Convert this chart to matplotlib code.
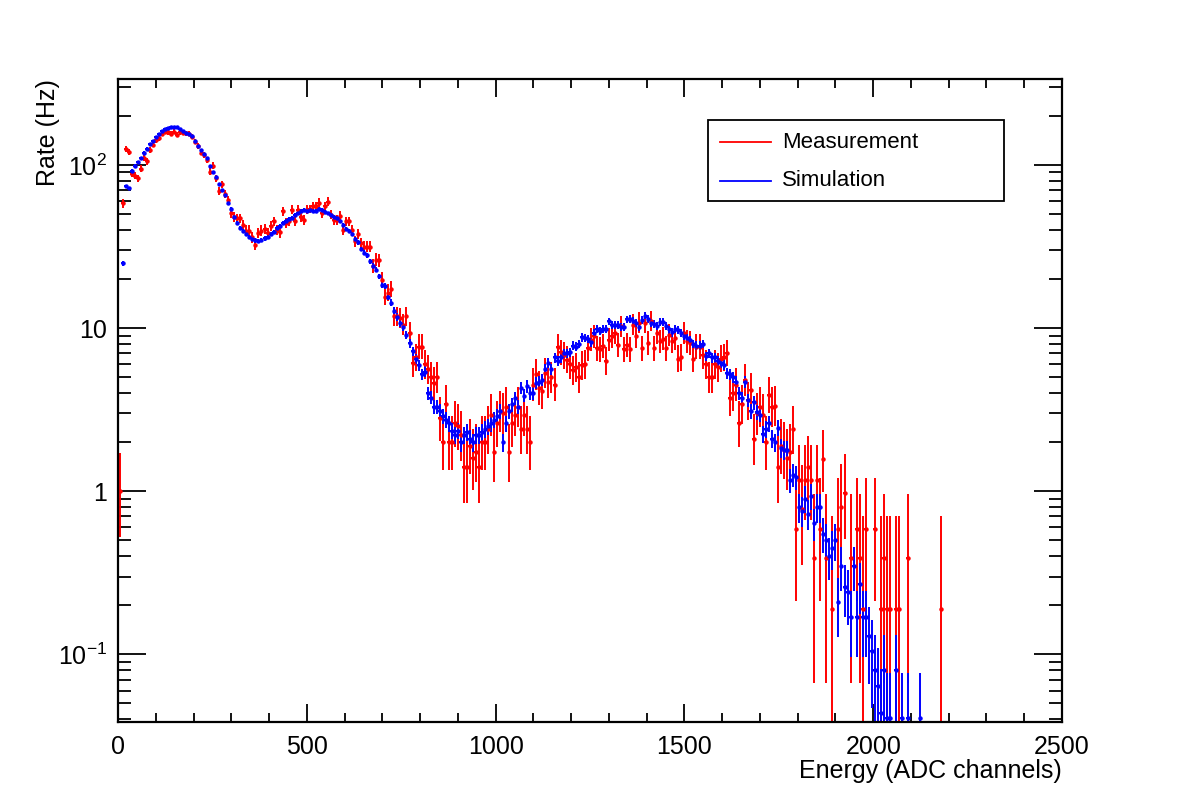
import numpy as np
import matplotlib
matplotlib.use("Agg")
import matplotlib.pyplot as plt
from matplotlib.ticker import FixedLocator, MultipleLocator, LogLocator, NullFormatter
from matplotlib.lines import Line2D
from matplotlib.patches import Rectangle

nan = np.nan

# histogram binning: 8 ADC channels per bin
bin_width = 8
# rate of a single count in the measurement (Hz)
one_count = 0.195

# measured rate per bin (Hz)
measurement = [
    1.0, 58, 125, 120, 88, 86, 83, 95, 110, 105,
    124, 133, 142, 146, 155, 160, 158, 155, 160, 153,
    158, 157, 156, 155, 149, 139, 130, 119, 115, 107,
    91, 99, 83, 69, 76, 66, 61, 50.6, 48, 47,
    47, 43, 39.6, 39.6, 36, 32.5, 38.3, 39.6, 40.4, 38.3,
    42.4, 45, 40, 38.6, 52, 44, 45, 53, 45, 53,
    48, 46, 53, 53.6, 56, 56, 58.8, 50.6, 55.7, 59.6,
    49.5, 46, 46, 48.8, 40, 45, 45, 40, 34, 37.8,
    33, 31.6, 31.6, 31.6, 24, 26.2, 26, 19.8, 15.6, 16.5,
    17.3, 11.8, 11.8, 11.5, 10.5, 11.8, 9.3, 6.1, 6.6, 7.7,
    7.7, 6.0, 5.6, 5.0, 4.6, 5.0, 2.8, 2.0, 3.4, 2.0,
    2.0, 2.6, 2.5, 2.2, 1.4, 1.4, 1.9, 1.6, 1.75, 1.4,
    2.0, 2.0, 2.4, 2.95, 1.75, 2.6, 3.1, 3.0, 3.3, 1.75,
    2.6, 2.95, 3.3, 2.4, 2.95, 2.4, 2.0, 4.5, 5.2, 4.3,
    4.1, 5.3, 4.7, 5.0, 4.5, 7.7, 7.1, 6.8, 6.4, 6.0,
    5.5, 5.75, 5.0, 5.9, 6.0, 7.5, 8.5, 8.9, 7.5, 7.4,
    7.8, 6.3, 8.5, 8.9, 9.3, 7.9, 10.3, 7.4, 7.9, 7.4,
    10.5, 8.9, 10.8, 7.5, 10.8, 8.1, 11.0, 7.5, 9.3, 8.3,
    8.6, 7.5, 9.1, 8.3, 8.7, 6.5, 6.6, 9.3, 8.3, 8.1,
    6.5, 7.7, 7.7, 6.8, 6.0, 5.0, 5.0, 6.0, 5.75, 6.5,
    6.6, 7.0, 3.75, 4.0, 4.5, 2.6, 3.4, 4.8, 3.6, 4.2,
    2.1, 3.0, 3.3, 2.95, 2.0, 3.9, 3.3, 3.35, 1.4, 1.9,
    1.8, 1.6, 1.75, 2.4, 0.59, 1.17, 0.78, 1.17, 1.4, 1.17,
    0.39, 1.17, 0.59, 1.57, 0.39, nan, 0.19, nan, 0.59, 0.8,
    0.98, nan, 0.39, nan, 0.59, 0.39, 0.19, 0.59, nan, nan,
    0.59, nan, 0.19, 0.39, 0.19, 0.19, nan, 0.19, 0.19, nan,
    nan, 0.39, nan, nan, nan, nan, nan, nan, nan, nan,
    nan, nan, 0.19,
]

# simulated rate per bin (Hz)
simulation = [
    nan, 25, 74, 72, 92, 99, 104, 110, 119, 126,
    134, 140, 148, 155, 161, 166, 169, 170, 171, 170,
    166, 161, 157, 154, 150, 140, 131, 123, 117, 110,
    98, 90, 84, 76, 70, 65, 58, 54, 48, 44,
    41, 39.5, 37.6, 36, 35, 34.4, 34.3, 34.8, 35.4, 36,
    37.5, 39, 41, 42.5, 44, 45.5, 46.5, 47.5, 49.5, 50.5,
    52, 53, 52, 53, 52.5, 52, 53.5, 53, 51.5, 50.5,
    49.5, 48, 47, 45, 43, 40.5, 39.5, 37.6, 35.2, 33.5,
    30.5, 29, 28, 25.6, 24, 22.8, 20.7, 18.3, 18, 15.5,
    14.3, 12.8, 11.7, 10.8, 10.2, 9.1, 8.1, 7.2, 6.5, 5.9,
    5.2, 5.4, 4.0, 3.75, 3.3, 3.3, 3.1, 2.9, 2.75, 2.6,
    2.35, 2.2, 2.35, 2.0, 2.2, 2.3, 2.1, 2.0, 2.2, 2.2,
    2.3, 2.4, 2.5, 2.6, 2.75, 2.9, 3.1, 2.0, 2.6, 3.1,
    3.4, 3.7, 3.3, 4.3, 3.85, 4.4, 4.0, 4.0, 4.6, 4.7,
    4.8, 5.6, 6.1, 5.6, 6.6, 6.3, 6.6, 7.0, 7.0, 7.1,
    7.8, 7.7, 8.0, 8.8, 8.7, 8.6, 8.2, 9.3, 9.9, 9.6,
    9.9, 9.9, 11.0, 10.5, 10.5, 10.4, 10.2, 10.2, 11.3, 11.4,
    11.1, 10.8, 10.2, 11.2, 11.9, 11.4, 10.8, 10.6, 10.3, 10.9,
    10.9, 10.3, 9.8, 9.4, 9.9, 9.7, 9.3, 9.0, 8.7, 8.4,
    8.0, 7.8, 7.8, 8.0, 6.7, 7.0, 6.6, 6.6, 6.3, 6.1,
    5.95, 5.3, 5.2, 5.0, 4.7, 4.0, 3.7, 4.7, 3.6, 3.1,
    3.5, 3.05, 2.95, 2.25, 2.4, 2.6, 2.1, 2.0, 2.45, 1.85,
    1.8, 1.8, 1.17, 1.26, 1.22, 0.8, 0.76, 0.9, 0.73, 0.94,
    0.64, 0.8, 0.8, 0.55, 0.5, 0.4, 0.45, 0.5, 0.21, 0.35,
    0.26, 0.24, 0.17, 0.35, 0.17, 0.27, 0.17, 0.17, 0.13, 0.105,
    0.08, 0.064, 0.044, 0.08, 0.041, 0.041, nan, 0.08, nan, 0.041,
    nan, 0.041, nan, nan, nan, 0.041,
]

x_ticks = [0, 500, 1000, 1500, 2000, 2500]
y_ticks = [0.1, 1, 10, 100]
y_tick_labels = [r"$10^{-1}$", "1", "10", r"$10^{2}$"]

plt.rcParams["font.family"] = ["Liberation Sans", "DejaVu Sans"]
plt.rcParams["mathtext.fontset"] = "custom"
plt.rcParams["mathtext.rm"] = "Liberation Sans"
plt.rcParams["mathtext.it"] = "Liberation Sans:italic"

n = max(len(measurement), len(simulation))
meas = np.full(n, nan)
meas[:len(measurement)] = measurement
sim = np.full(n, nan)
sim[:len(simulation)] = simulation
centers = bin_width * np.arange(n) + bin_width / 2

# measurement: Poisson-like asymmetric errors on counts (plus background)
counts = meas / one_count + 1.0
meas_up = one_count * (np.sqrt(counts + 0.75) + 1)
meas_lo = one_count * np.sqrt(counts - 0.25)
meas_lo = meas - np.maximum(meas - meas_lo, 1e-4)

# simulation: statistical weight of the simulated sample
sim_err = np.sqrt(0.032 * sim)
sim_lo = sim - np.maximum(sim - sim_err, 1e-4)

fig = plt.figure(figsize=(11.82, 8.05), dpi=100)
ax = fig.add_axes([118 / 1182, 1 - 722 / 805, (1062 - 118) / 1182, (722 - 79) / 805])

ax.errorbar(centers, meas, yerr=[meas_lo, meas_up], xerr=bin_width / 2,
            fmt="o", ms=2.2, color="red", ecolor="red", elinewidth=1.4, capsize=0)
ax.errorbar(centers, sim, yerr=[sim_lo, sim_err], xerr=bin_width / 2,
            fmt="o", ms=2.2, color="blue", ecolor="blue", elinewidth=1.4, capsize=0)

ax.set_yscale("log")
ax.set_xlim(0, 2500)
ax.set_ylim(0.0385, 336)

ax.xaxis.set_major_locator(FixedLocator(x_ticks))
ax.xaxis.set_minor_locator(MultipleLocator(100))
ax.yaxis.set_major_locator(FixedLocator(y_ticks))
ax.set_yticklabels(y_tick_labels)
ax.yaxis.set_minor_locator(LogLocator(base=10, subs=np.arange(2, 10)))
ax.yaxis.set_minor_formatter(NullFormatter())

ax.tick_params(axis="both", which="both", direction="in", top=True, right=True,
               labelsize=18, width=1.3)
ax.tick_params(axis="x", which="major", length=13, pad=9)
ax.tick_params(axis="x", which="minor", length=6.5)
ax.tick_params(axis="y", which="major", length=20, pad=8)
ax.tick_params(axis="y", which="minor", length=9.5)
for s in ax.spines.values():
    s.set_linewidth(1.6)

fig.text(1062 / 1182, 1 - 771 / 805, "Energy (ADC channels)", ha="right", va="center", fontsize=18)
fig.text(48 / 1182, 1 - 79 / 805, "Rate (Hz)", ha="center", va="top", rotation=90, fontsize=18)

# legend box
fig.patches.append(Rectangle((708 / 1182, 1 - 200.5 / 805), 296 / 1182, 80.5 / 805,
                             transform=fig.transFigure, fill=True, facecolor="white",
                             edgecolor="black", linewidth=1.3, zorder=5))
for yy, col, lab in [(142, "red", "Measurement"), (181, "blue", "Simulation")]:
    fig.lines.append(Line2D([720 / 1182, 771 / 1182], [1 - yy / 805, 1 - yy / 805],
                            transform=fig.transFigure, color=col, linewidth=1.3, zorder=6))
    fig.text(782 / 1182, 1 - yy / 805, lab, ha="left", va="center", fontsize=16, zorder=6)

fig.savefig("out.png", dpi=100)
